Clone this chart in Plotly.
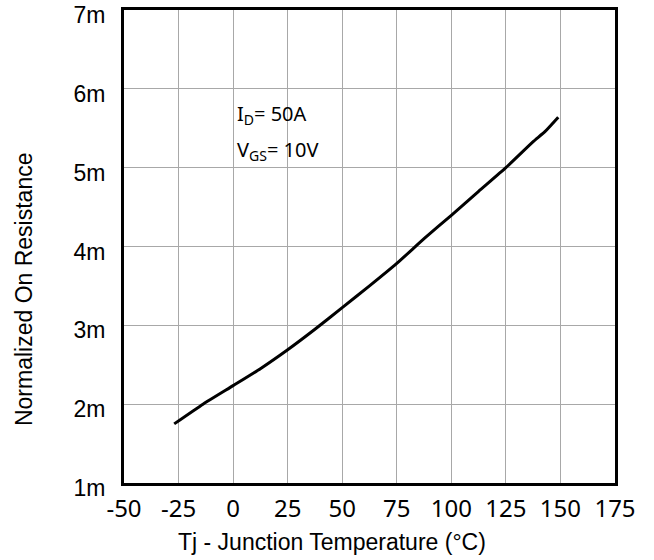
import plotly.graph_objects as go

# Data
temperature_c = [-27, -13.8, 0, 12.5, 25, 37.5, 50, 62.5, 75, 87.5, 100, 112.5, 125, 137.5, 143, 149]
on_resistance_m = [1.75, 2.0, 2.235, 2.45, 2.69, 2.95, 3.225, 3.50, 3.785, 4.10, 4.395, 4.70, 5.0, 5.33, 5.46, 5.64]

x_tick_vals = [-50, -25, 0, 25, 50, 75, 100, 125, 150, 175]
x_tick_text = ["-50", "-25", "0", "25", "50", "75", "100", "125", "150", "175"]
y_tick_vals = [1, 2, 3, 4, 5, 6, 7]
y_tick_text = ["1m", "2m", "3m", "4m", "5m", "6m", "7m"]

fig = go.Figure()
fig.add_trace(go.Scatter(
    x=temperature_c, y=on_resistance_m, mode="lines",
    line=dict(color="black", width=3, shape="spline", smoothing=0.4),
    showlegend=False, hoverinfo="skip",
))

fig.update_layout(
    width=654, height=560,
    margin=dict(l=124, r=39, t=10, b=77, autoexpand=False),
    paper_bgcolor="white", plot_bgcolor="white",
)

fig.update_xaxes(
    range=[-50, 175], tickvals=x_tick_vals, ticktext=x_tick_text,
    showgrid=True, gridcolor="#a8a8a8", gridwidth=1,
    showline=True, linecolor="black", linewidth=3, mirror=True,
    ticks="", ticklabelstandoff=2, automargin=False, ticklabeloverflow="allow",
    tickfont=dict(family="Noto Sans", size=24, color="black"),
    zeroline=False,
)
fig.update_yaxes(
    range=[1, 7], tickvals=y_tick_vals, ticktext=y_tick_text,
    showgrid=True, gridcolor="#a8a8a8", gridwidth=1,
    showline=True, linecolor="black", linewidth=3, mirror=True,
    ticks="", ticklabelstandoff=11, ticklabelshift=5, automargin=False,
    ticklabeloverflow="allow",
    tickfont=dict(family="Liberation Sans, Arial", size=23, color="black"),
    zeroline=False,
)

# Axis titles (positioned as in the reference)
fig.add_annotation(
    text="Tj - Junction Temperature (°C)", xref="paper", yref="paper",
    x=0.4236, y=-0.125, xanchor="center", yanchor="middle", showarrow=False,
    font=dict(family="Liberation Sans, Arial", size=23, color="black"),
)
fig.add_annotation(
    text="Normalized On Resistance", xref="paper", yref="paper",
    x=-0.2037, y=0.41, xanchor="center", yanchor="middle", textangle=-90,
    showarrow=False,
    font=dict(family="Liberation Sans, Arial", size=23, color="black"),
)

# Condition labels
fig.add_annotation(
    text="I<sub>D</sub>= 50A", xref="paper", yref="paper",
    x=(235 - 124) / 491, y=(483 - 114) / 473, xanchor="left", yanchor="middle",
    showarrow=False, font=dict(family="Noto Sans", size=20, color="black"),
)
fig.add_annotation(
    text="V<sub>GS</sub>= 10V", xref="paper", yref="paper",
    x=(235 - 124) / 491, y=(483 - 150) / 473, xanchor="left", yanchor="middle",
    showarrow=False, font=dict(family="Noto Sans", size=20, color="black"),
)

# Remove the browser's default 8px body margin so the figure sits at the page origin
fig.write_html("out.html", config={"displayModeBar": False},
               post_script="document.body.style.margin='0';")
